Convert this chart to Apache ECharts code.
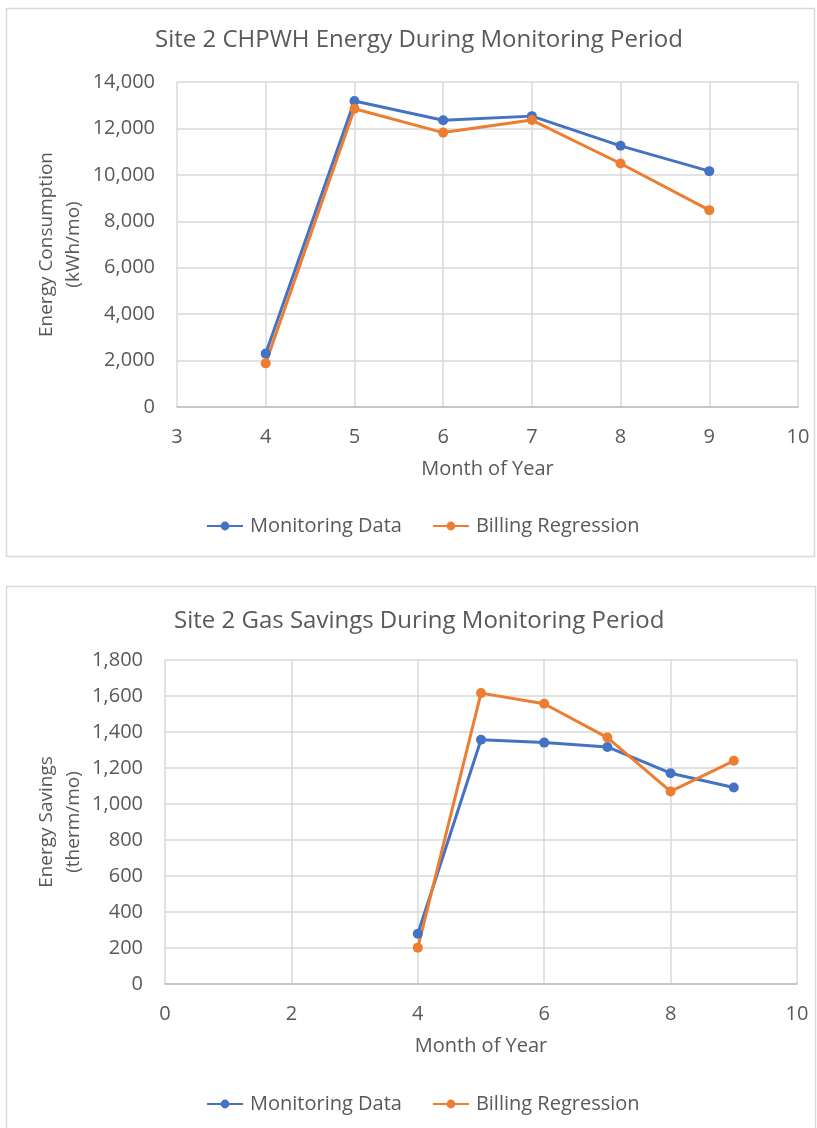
<!DOCTYPE html>
<html>
<head>
<meta charset="utf-8">
<script src="https://cdn.jsdelivr.net/npm/echarts@6/dist/echarts.min.js"></script>
<style>
html,body{margin:0;padding:0;background:#fff;}
#c{width:817px;height:1128px;}
</style>
</head>
<body>
<div id="c"></div>
<script>
// Chart 1: Site 2 CHPWH Energy
var months = [4, 5, 6, 7, 8, 9];
var energyMonitoring = [2300, 13180, 12350, 12530, 11250, 10160];
var energyBilling = [1880, 12850, 11820, 12360, 10490, 8480];
// Chart 2: Site 2 Gas Savings
var gasMonitoring = [279, 1357, 1341, 1317, 1171, 1092];
var gasBilling = [202, 1616, 1557, 1369, 1070, 1240];

var seriesNames = ['Monitoring Data', 'Billing Regression'];
var titles = ['Site 2 CHPWH Energy During Monitoring Period', 'Site 2 Gas Savings During Monitoring Period'];
var yNames = ['Energy Consumption\n(kWh/mo)', 'Energy Savings\n(therm/mo)'];
var xName = 'Month of Year';

var BLUE = '#4472C4', ORANGE = '#ED7D31', TXT = '#595959', GRID = '#d9d9d9';
var FONT = 'Open Sans';

function pairs(xs, ys) { return xs.map(function (x, i) { return [x, ys[i]]; }); }
function fmt(v) { return v.toLocaleString('en-US'); }

function mkSeries(name, color, xi, data) {
  return {
    name: name, type: 'line', xAxisIndex: xi, yAxisIndex: xi,
    data: data, symbol: 'circle', symbolSize: 10, showSymbol: true,
    lineStyle: { color: color, width: 3 },
    itemStyle: { color: color },
    animation: false
  };
}

function xAxis(gi, min, max, interval) {
  return {
    type: 'value', gridIndex: gi, min: min, max: max, interval: interval,
    name: xName, nameLocation: 'middle', nameGap: 52, nameMoveOverlap: false,
    nameTextStyle: { color: TXT, fontSize: 20, fontFamily: FONT },
    axisLine: { show: true, lineStyle: { color: '#bfbfbf', width: 1.5 } },
    axisTick: { show: false },
    axisLabel: { color: TXT, fontSize: 20, fontFamily: FONT, margin: 20 },
    splitLine: { show: true, lineStyle: { color: GRID, width: 1.5 } }
  };
}
function yAxis(gi, max, interval, name, gap) {
  return {
    type: 'value', gridIndex: gi, min: 0, max: max, interval: interval,
    name: name, nameLocation: 'middle', nameGap: gap, nameMoveOverlap: false,
    nameTextStyle: { color: TXT, fontSize: 19, fontFamily: FONT, lineHeight: 27 },
    axisLine: { show: false }, axisTick: { show: false },
    axisLabel: { color: TXT, fontSize: 20, fontFamily: FONT, margin: 22, formatter: fmt },
    splitLine: { show: true, lineStyle: { color: GRID, width: 1.5 } }
  };
}

var legendBase = {
  itemWidth: 36, itemHeight: 11, itemGap: 30,
  textStyle: { color: TXT, fontSize: 20, fontFamily: FONT, padding: [0, 0, 0, 2] }
};

var option = {
  backgroundColor: '#fff',
  animation: false,
  title: [
    { text: titles[0], left: 150, top: 23, textStyle: { color: TXT, fontSize: 24, fontWeight: 'normal', fontFamily: FONT } },
    { text: titles[1], left: 169, top: 604, textStyle: { color: TXT, fontSize: 24, fontWeight: 'normal', fontFamily: FONT } }
  ],
  legend: [
    Object.assign({}, legendBase, { data: seriesNames, left: 201, top: 511 }),
    Object.assign({}, legendBase, { data: seriesNames, left: 201, top: 1089 })
  ],
  grid: [
    { left: 177, right: 19, top: 82, height: 325, containLabel: false, show: false },
    { left: 165, right: 20, top: 660, height: 324, containLabel: false, show: false }
  ],
  xAxis: [xAxis(0, 3, 10, 1), xAxis(1, 0, 10, 2)],
  yAxis: [yAxis(0, 14000, 2000, yNames[0], 90), yAxis(1, 1800, 200, yNames[1], 78)],
  series: [
    mkSeries(seriesNames[0], BLUE, 0, pairs(months, energyMonitoring)),
    mkSeries(seriesNames[1], ORANGE, 0, pairs(months, energyBilling)),
    mkSeries(seriesNames[0], BLUE, 1, pairs(months, gasMonitoring)),
    mkSeries(seriesNames[1], ORANGE, 1, pairs(months, gasBilling))
  ],
  graphic: [
    { type: 'rect', shape: { x: 6.5, y: 8.5, width: 808, height: 548 }, style: { fill: 'none', stroke: GRID, lineWidth: 1.5 }, silent: true, z: -1 },
    { type: 'rect', shape: { x: 6.5, y: 586.5, width: 809, height: 560 }, style: { fill: 'none', stroke: GRID, lineWidth: 1.5 }, silent: true, z: -1 }
  ]
};

var chart = echarts.init(document.getElementById('c'), null, { renderer: 'canvas' });
chart.setOption(option);
</script>
</body>
</html>
